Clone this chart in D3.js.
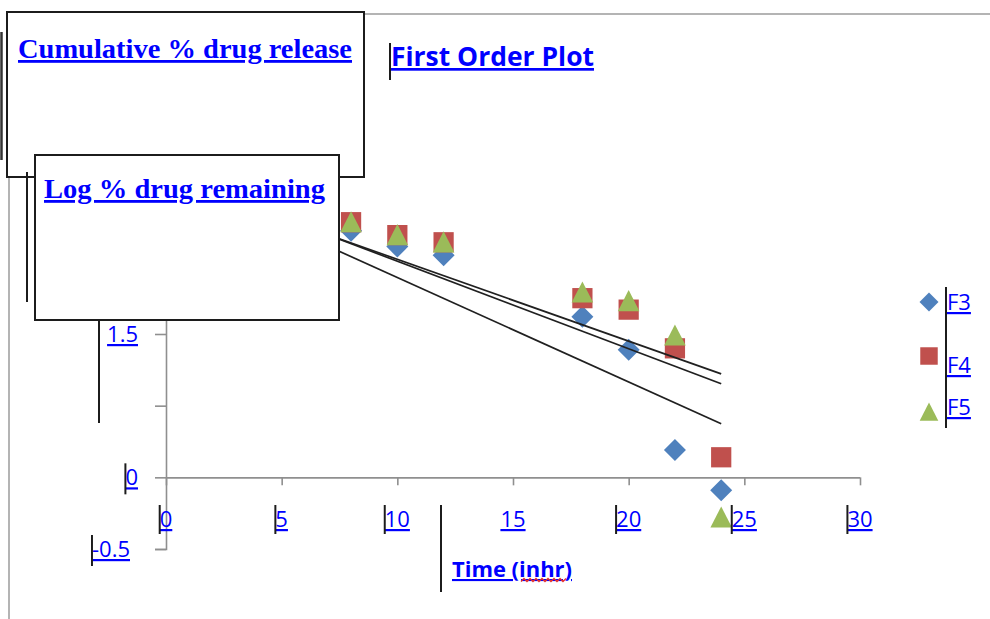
<!DOCTYPE html>
<html>
<head>
<meta charset="utf-8">
<script src="https://cdn.jsdelivr.net/npm/d3@7"></script>
<style>
  body { margin: 0; background: #fff; }
  svg text { fill: #0000ff; text-decoration: underline; }
</style>
</head>
<body>
<svg id="chart" width="990" height="619"></svg>
<script>
// Sampling times (h) and log % drug remaining for each formulation
const times = [8, 10, 12, 18, 20, 22, 24];
const seriesNames = ["F3", "F4", "F5"];
const logF3 = [1.72, 1.61, 1.55, 1.12, 0.89, 0.19, -0.09];
const logF4 = [1.78, 1.69, 1.64, 1.25, 1.17, 0.90, 0.14];
const logF5 = [1.78, 1.69, 1.64, 1.29, 1.23, 0.99, -0.28];

// Linear (first order) trendlines: log remaining = intercept + slope * t
const trendIntercepts = [2.123, 2.119, 2.092];
const trendSlopes = [-0.0729, -0.0611, -0.0571];
const trendRange = [0, 24];

// Axis ticks and the tick labels as printed
const xTicks = [0, 5, 10, 15, 20, 25, 30];
const xTickLabels = ["0", "5", "10", "15", "20", "25", "30"];
const yTicks = [-0.5, 0, 0.5, 1, 1.5, 2, 2.5];
const yLabelTicks = [-0.5, 0, 1];
const yLabelTexts = ["-0.5", "0", "1.5"];

const titleText = "First Order Plot";
const xAxisTitle = "Time (inhr)";
const boxTitles = ["Cumulative % drug release", "Log % drug remaining"];

const colors = ["#4f81bd", "#c0504d", "#9bbb59"];
const seriesValues = [logF3, logF4, logF5];

const svg = d3.select("#chart");
const x = d3.scaleLinear().domain([0, 30]).range([166, 860]);
const y = d3.scaleLinear().domain([-0.5, 2.5]).range([549, 119]);

const sans = "'Open Sans', sans-serif";
const serif = "'Liberation Serif', 'Times New Roman', serif";
const axisGrey = "#8f8f8f";
const barColor = "#1c1c1c";

// outer chart frame
svg.append("rect")
  .attr("x", 9).attr("y", 14).attr("width", 1000).attr("height", 640)
  .attr("fill", "none").attr("stroke", "#a2a2a2").attr("stroke-width", 1.6);

// axes
const xAxis = d3.axisBottom(x).tickValues(xTicks).tickSize(8).tickFormat("");
const gx = svg.append("g").attr("transform", `translate(0,${y(0)})`).call(xAxis);
const yAxis = d3.axisLeft(y).tickValues(yTicks).tickSize(11).tickFormat("");
const gy = svg.append("g").attr("transform", `translate(${x(0)},0)`).call(yAxis);
[gx, gy].forEach(g => {
  g.select(".domain").attr("stroke", axisGrey).attr("stroke-width", 1.6);
  g.selectAll(".tick line").attr("stroke", axisGrey).attr("stroke-width", 1.6);
});
gx.select(".domain").attr("d", `M${x(0)},0.5H${x(30)}`);
gx.selectAll(".tick line").attr("y1", 0);

// marker shapes
const shapes = [
  s => `M0,${-s}L${s},0L0,${s}L${-s},0Z`,
  s => `M${-s * 0.92},${-s * 0.92}H${s * 0.92}V${s * 0.92}H${-s * 0.92}Z`,
  s => `M0,${-s}L${s * 0.98},${s * 0.92}L${-s * 0.98},${s * 0.92}Z`
];

// data markers
seriesValues.forEach((vals, i) => {
  svg.append("g").selectAll("path")
    .data(times.map((t, j) => ({ t, v: vals[j] })))
    .join("path")
    .attr("d", shapes[i](11))
    .attr("transform", d => `translate(${x(d.t)},${y(d.v)})`)
    .attr("fill", colors[i]);
});

// trendlines
seriesNames.forEach((name, i) => {
  const pts = trendRange.map(t => [x(t), y(trendIntercepts[i] + trendSlopes[i] * t)]);
  svg.append("path")
    .attr("d", d3.line()(pts))
    .attr("fill", "none").attr("stroke", "#202020").attr("stroke-width", 1.7);
});

// x tick labels with their edit bars
xTicks.forEach((t, i) => {
  const lbl = svg.append("text")
    .attr("x", x(t)).attr("y", 527)
    .attr("text-anchor", "middle")
    .attr("font-family", sans).attr("font-size", 22)
    .text(xTickLabels[i]);
  if (xTickLabels[i] !== "15") {
    const bb = lbl.node().getBBox();
    svg.append("line")
      .attr("x1", bb.x).attr("x2", bb.x).attr("y1", 505).attr("y2", 534)
      .attr("stroke", barColor).attr("stroke-width", 2);
  }
});

// y tick labels
const yLabelRight = [130, 138, 138];
yLabelTicks.forEach((v, i) => {
  const lbl = svg.append("text")
    .attr("x", yLabelRight[i]).attr("y", y(v) + 8)
    .attr("text-anchor", "end")
    .attr("font-family", sans).attr("font-size", 22)
    .text(yLabelTexts[i]);
  if (i < 2) {
    const bb = lbl.node().getBBox();
    svg.append("line")
      .attr("x1", bb.x).attr("x2", bb.x).attr("y1", y(v) - 14).attr("y2", y(v) + 17)
      .attr("stroke", barColor).attr("stroke-width", 2);
  }
});
svg.append("line").attr("x1", 99).attr("x2", 99).attr("y1", 290).attr("y2", 423)
  .attr("stroke", barColor).attr("stroke-width", 2);

// axis title with spelling underline
svg.append("text")
  .attr("x", 452).attr("y", 577)
  .attr("font-family", sans).attr("font-size", 21).attr("font-weight", "bold")
  .attr("textLength", 120).attr("lengthAdjust", "spacingAndGlyphs")
  .text(xAxisTitle);
svg.append("line").attr("x1", 441).attr("x2", 441).attr("y1", 505).attr("y2", 592)
  .attr("stroke", barColor).attr("stroke-width", 2);
const squiggle = d3.range(0, 16).map(k => [521 + k * 3, k % 2 ? 578.5 : 581.5]);
svg.append("path").attr("d", d3.line()(squiggle))
  .attr("fill", "none").attr("stroke", "#e8322c").attr("stroke-width", 1.4);

// chart title
svg.append("text")
  .attr("x", 391).attr("y", 66)
  .attr("font-family", sans).attr("font-size", 27).attr("font-weight", "bold")
  .attr("textLength", 203).attr("lengthAdjust", "spacingAndGlyphs")
  .text(titleText);
svg.append("line").attr("x1", 390).attr("x2", 390).attr("y1", 43).attr("y2", 80)
  .attr("stroke", barColor).attr("stroke-width", 2);

// legend
const legendY = [302, 356, 412];
const legendTextY = [310, 373, 415];
seriesNames.forEach((name, i) => {
  svg.append("path").attr("d", shapes[i](9.5))
    .attr("transform", `translate(929,${legendY[i]})`)
    .attr("fill", colors[i]);
  svg.append("text")
    .attr("x", 947).attr("y", legendTextY[i])
    .attr("font-family", sans).attr("font-size", 22)
    .text(name);
});
svg.append("line").attr("x1", 946).attr("x2", 946).attr("y1", 287).attr("y2", 428)
  .attr("stroke", barColor).attr("stroke-width", 2);

// left edge bar
svg.append("line").attr("x1", 1.5).attr("x2", 1.5).attr("y1", 32).attr("y2", 160)
  .attr("stroke", "#333").attr("stroke-width", 2.5);

// title boxes
svg.append("rect").attr("x", 7).attr("y", 12).attr("width", 357).attr("height", 165)
  .attr("fill", "#fff").attr("stroke", barColor).attr("stroke-width", 2);
svg.append("text")
  .attr("x", 18).attr("y", 58)
  .attr("font-family", serif).attr("font-size", 28).attr("font-weight", "bold")
  .attr("textLength", 334).attr("lengthAdjust", "spacingAndGlyphs")
  .text(boxTitles[0]);
svg.append("line").attr("x1", 27).attr("x2", 27).attr("y1", 172).attr("y2", 302)
  .attr("stroke", barColor).attr("stroke-width", 2);
svg.append("rect").attr("x", 35).attr("y", 155).attr("width", 304).attr("height", 165)
  .attr("fill", "#fff").attr("stroke", barColor).attr("stroke-width", 2);
svg.append("text")
  .attr("x", 44).attr("y", 198)
  .attr("font-family", serif).attr("font-size", 28).attr("font-weight", "bold")
  .attr("textLength", 281).attr("lengthAdjust", "spacingAndGlyphs")
  .text(boxTitles[1]);
</script>
</body>
</html>
